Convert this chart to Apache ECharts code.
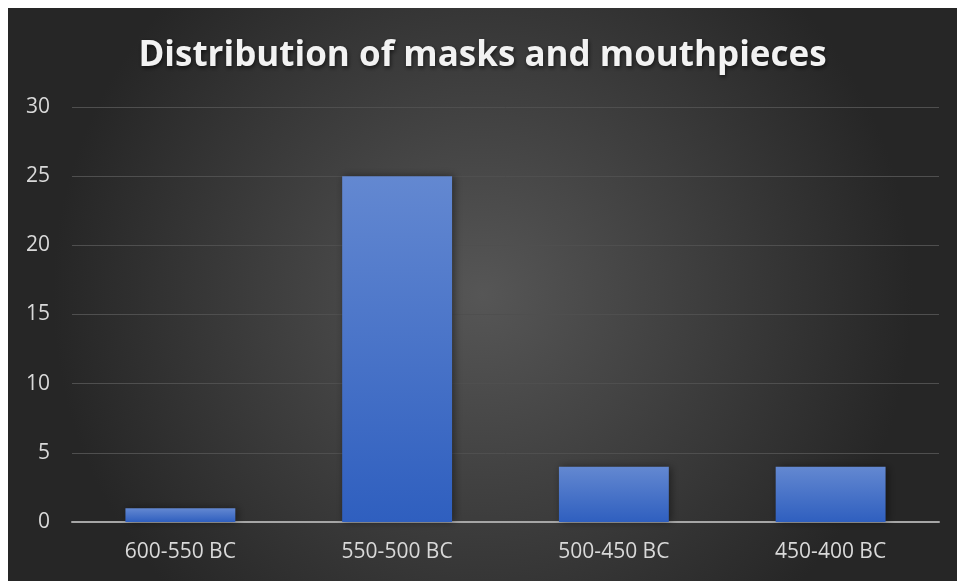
<!DOCTYPE html>
<html>
<head>
<meta charset="utf-8">
<script src="https://cdn.jsdelivr.net/npm/echarts@6/dist/echarts.min.js"></script>
<style>
  html, body { margin: 0; padding: 0; background: #ffffff; }
  #chart { position: absolute; left: 8px; top: 8px; width: 949px; height: 573px; }
</style>
</head>
<body>
<div id="chart"></div>
<script>
const periods = ['600-550 BC', '550-500 BC', '500-450 BC', '450-400 BC'];
const finds = [1, 25, 4, 4];
const yTicks = { min: 0, max: 30, interval: 5 };

const chart = echarts.init(document.getElementById('chart'), null, { renderer: 'canvas' });

chart.setOption({
  backgroundColor: {
    type: 'radial', x: 0.5, y: 0.5, r: 0.75,
    colorStops: [
      { offset: 0, color: '#565656' },
      { offset: 1, color: '#262626' }
    ]
  },
  title: {
    text: 'Distribution of masks and mouthpieces',
    left: 'center',
    top: 26,
    textStyle: {
      fontFamily: 'Open Sans',
      fontWeight: 'bold',
      fontSize: 35,
      color: '#f2f2f2',
      textShadowColor: 'rgba(0,0,0,0.6)',
      textShadowBlur: 4,
      textShadowOffsetX: 1,
      textShadowOffsetY: 2
    }
  },
  grid: { left: 64, top: 99, width: 867, height: 415, containLabel: false },
  xAxis: {
    type: 'category',
    data: periods,
    axisTick: { show: false },
    axisLine: { show: true, lineStyle: { color: '#a6a6a6', width: 2 } },
    axisLabel: { color: '#d9d9d9', fontFamily: 'Open Sans', fontSize: 21, margin: 20 }
  },
  yAxis: {
    type: 'value',
    min: yTicks.min, max: yTicks.max, interval: yTicks.interval,
    axisLine: { show: false },
    axisTick: { show: false },
    axisLabel: { color: '#d9d9d9', fontFamily: 'Open Sans', fontSize: 21, margin: 22 },
    splitLine: { lineStyle: { color: '#4f4f4f', width: 1 } }
  },
  series: [{
    type: 'bar',
    data: finds,
    barWidth: '50.7%',
    itemStyle: {
      color: {
        type: 'linear', x: 0, y: 0, x2: 0, y2: 1,
        colorStops: [
          { offset: 0, color: '#6388d1' },
          { offset: 1, color: '#2f5fbf' }
        ]
      },
      shadowColor: 'rgba(0,0,0,0.45)',
      shadowBlur: 8,
      shadowOffsetX: 2,
      shadowOffsetY: 0
    },
    animation: false
  }],
  animation: false
});
</script>
</body>
</html>
